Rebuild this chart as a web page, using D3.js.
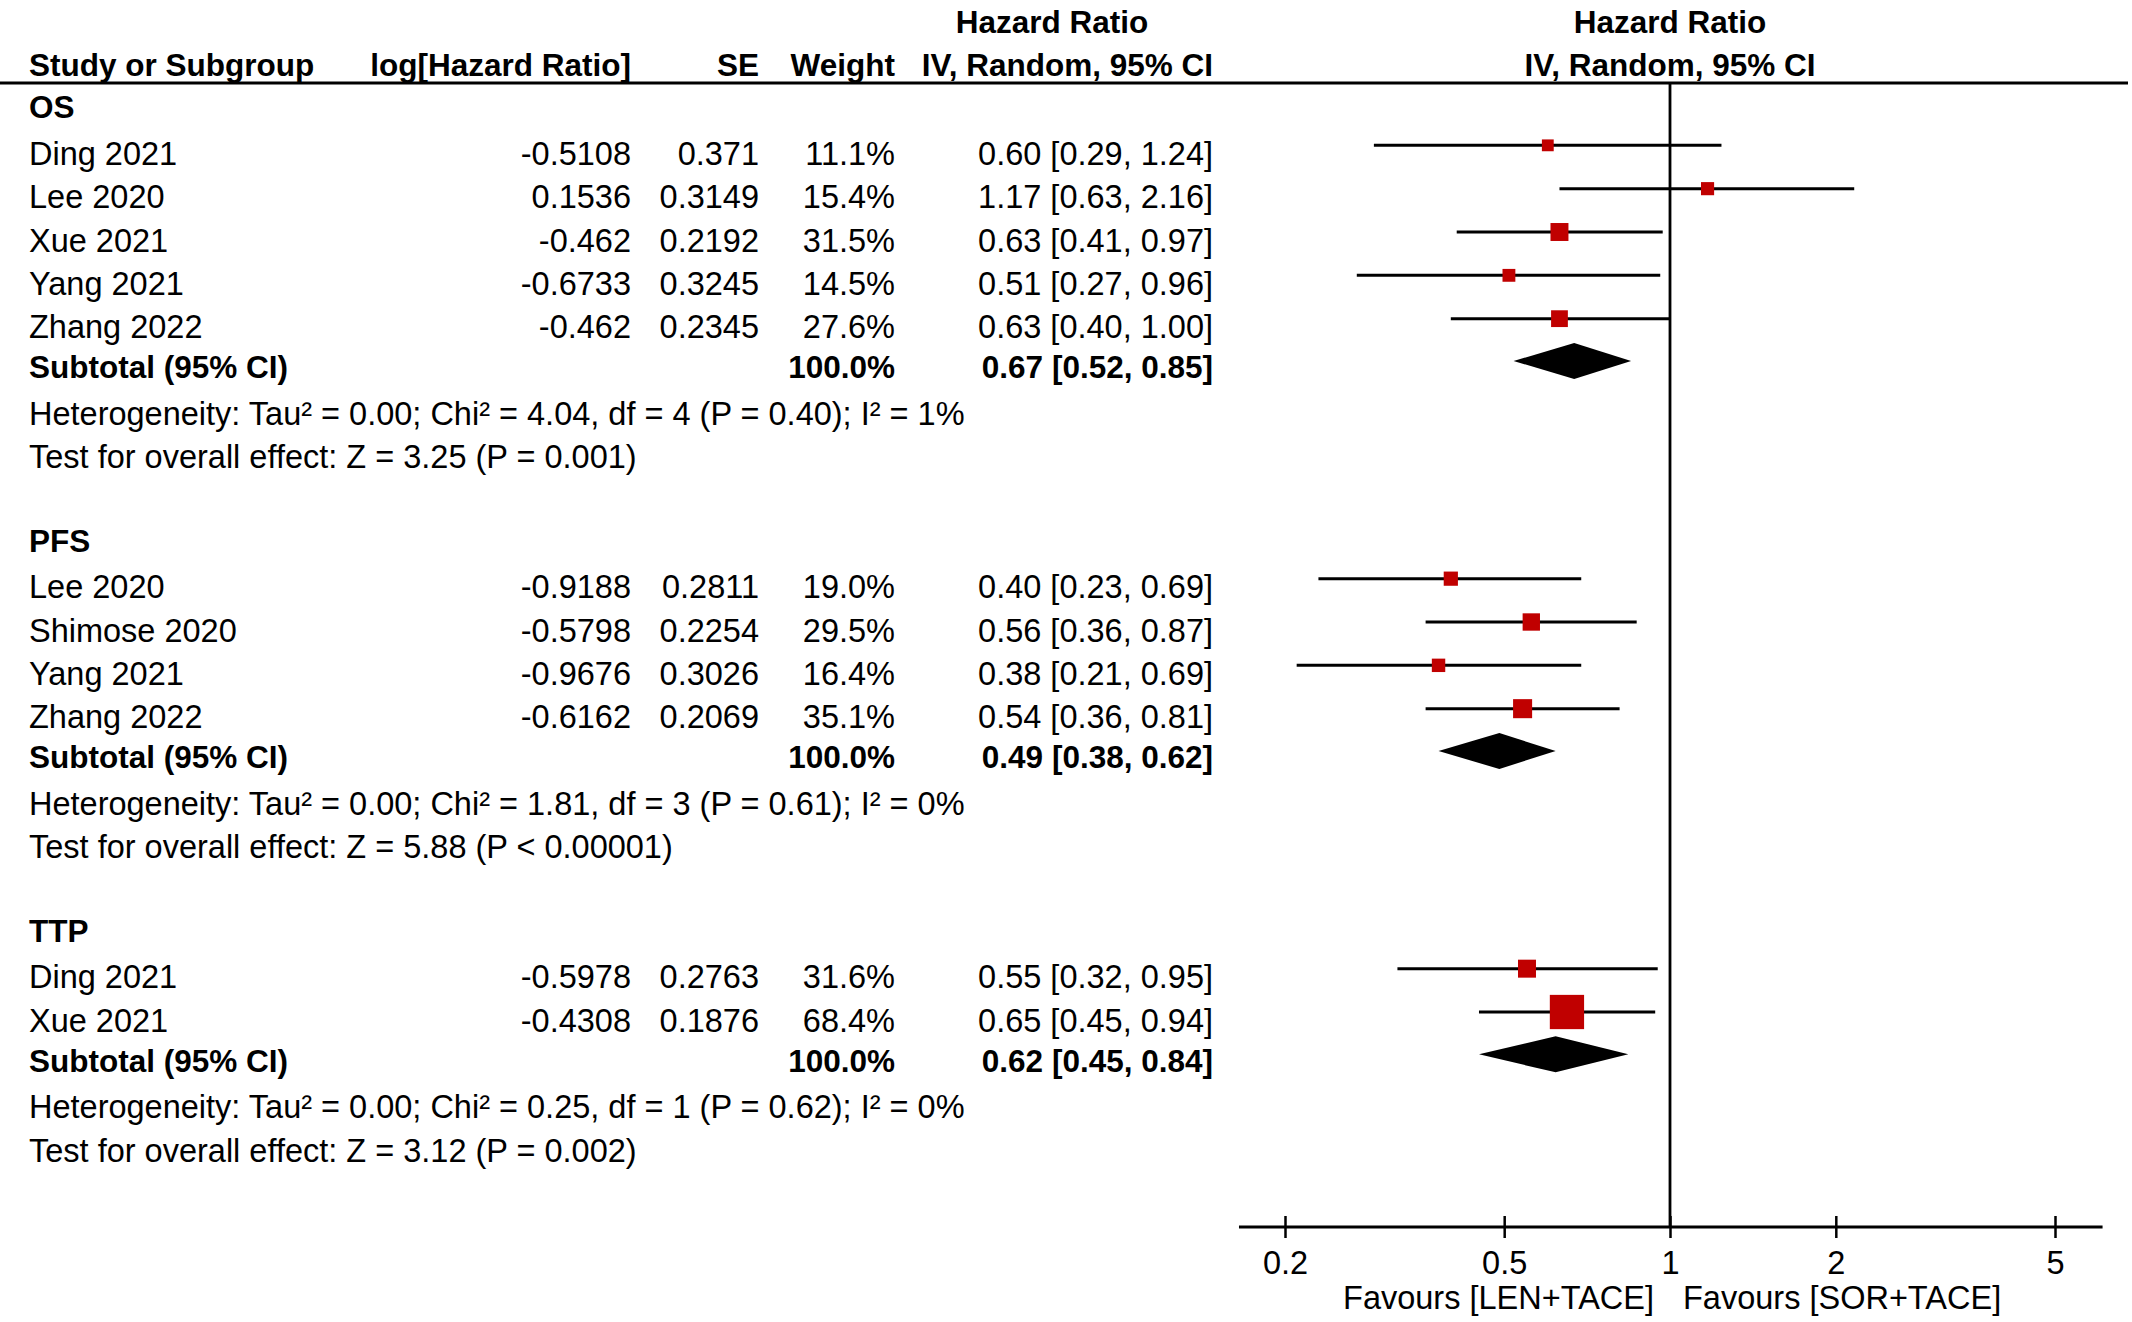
<!DOCTYPE html>
<html>
<head>
<meta charset="utf-8">
<script src="https://cdn.jsdelivr.net/npm/d3@7"></script>
<style>
  body { margin: 0; background: #fff; }
  svg text { font-family: "Liberation Sans", Arial, sans-serif; font-size: 32.5px; fill: #000; }
  .b { font-weight: bold; font-size: 31.5px; }
</style>
</head>
<body>
<svg id="chart" width="2132" height="1322"></svg>
<script>
// data
var groups = ["OS", "PFS", "TTP"];
var studies = ["Ding 2021", "Lee 2020", "Xue 2021", "Yang 2021", "Zhang 2022",
               "Lee 2020", "Shimose 2020", "Yang 2021", "Zhang 2022",
               "Ding 2021", "Xue 2021"];
var studyGroup = [0, 0, 0, 0, 0, 1, 1, 1, 1, 2, 2];
var logHR = ["-0.5108", "0.1536", "-0.462", "-0.6733", "-0.462",
             "-0.9188", "-0.5798", "-0.9676", "-0.6162",
             "-0.5978", "-0.4308"];
var se = ["0.371", "0.3149", "0.2192", "0.3245", "0.2345",
          "0.2811", "0.2254", "0.3026", "0.2069",
          "0.2763", "0.1876"];
var weight = [11.1, 15.4, 31.5, 14.5, 27.6, 19.0, 29.5, 16.4, 35.1, 31.6, 68.4];
var hr = [0.60, 1.17, 0.63, 0.51, 0.63, 0.40, 0.56, 0.38, 0.54, 0.55, 0.65];
var lo = [0.29, 0.63, 0.41, 0.27, 0.40, 0.23, 0.36, 0.21, 0.36, 0.32, 0.45];
var hi = [1.24, 2.16, 0.97, 0.96, 1.00, 0.69, 0.87, 0.69, 0.81, 0.95, 0.94];

var subHR = [0.67, 0.49, 0.62];
var subLo = [0.52, 0.38, 0.45];
var subHi = [0.85, 0.62, 0.84];
var hetText = [
  "Heterogeneity: Tau\u00b2 = 0.00; Chi\u00b2 = 4.04, df = 4 (P = 0.40); I\u00b2 = 1%",
  "Heterogeneity: Tau\u00b2 = 0.00; Chi\u00b2 = 1.81, df = 3 (P = 0.61); I\u00b2 = 0%",
  "Heterogeneity: Tau\u00b2 = 0.00; Chi\u00b2 = 0.25, df = 1 (P = 0.62); I\u00b2 = 0%"
];
var effectText = [
  "Test for overall effect: Z = 3.25 (P = 0.001)",
  "Test for overall effect: Z = 5.88 (P < 0.00001)",
  "Test for overall effect: Z = 3.12 (P = 0.002)"
];
var ticks = [0.2, 0.5, 1, 2, 5];
var axisExtent = [0.165, 6.1];
var favours = ["Favours [LEN+TACE]", "Favours [SOR+TACE]"];

var svg = d3.select("#chart");

// columns
var col = {label: 29, logHR: 631, se: 759, weight: 895, ci: 1213, ciHead: 1052};
var axisY = 1227;

var x = d3.scaleLog().domain([0.2, 5]).range([1285, 2055]);
var rowY = d3.scaleLinear().domain([0, 24]).range([110, 1150]);
var boxSize = d3.scaleLinear().domain([10, 35, 70]).range([11.5, 19, 35]);

function txt(xp, yp, s, anchor, bold) {
  return svg.append("text")
    .attr("x", xp).attr("y", yp).attr("dy", "0.36em")
    .attr("text-anchor", anchor || "start")
    .attr("class", bold ? "b" : null)
    .text(s);
}

// header
txt(col.ciHead, 22, "Hazard Ratio", "middle", true);
txt(x(1), 22, "Hazard Ratio", "middle", true);
txt(col.label, 65, "Study or Subgroup", "start", true);
txt(col.logHR, 65, "log[Hazard Ratio]", "end", true);
txt(col.se, 65, "SE", "end", true);
txt(col.weight, 65, "Weight", "end", true);
txt(col.ci, 65, "IV, Random, 95% CI", "end", true);
txt(x(1), 65, "IV, Random, 95% CI", "middle", true);
svg.append("line").attr("x1", 0).attr("x2", 2128).attr("y1", 83).attr("y2", 83)
  .attr("stroke", "#000").attr("stroke-width", 3);

// null line
svg.append("line").attr("x1", x(1)).attr("x2", x(1)).attr("y1", 83).attr("y2", axisY)
  .attr("stroke", "#000").attr("stroke-width", 2.8);

// build row layout
var row = 0;
groups.forEach(function(g, gi) {
  txt(col.label, rowY(row) - 3, g, "start", true);
  row++;
  studies.forEach(function(s, i) {
    if (studyGroup[i] !== gi) return;
    var y = rowY(row);
    txt(col.label, y, s);
    txt(col.logHR, y, logHR[i], "end");
    txt(col.se, y, se[i], "end");
    txt(col.weight, y, weight[i].toFixed(1) + "%", "end");
    txt(col.ci, y, hr[i].toFixed(2) + " [" + lo[i].toFixed(2) + ", " + hi[i].toFixed(2) + "]", "end");
    var ly = y - 8;
    svg.append("line").attr("x1", x(lo[i])).attr("x2", x(hi[i]))
      .attr("y1", ly).attr("y2", ly)
      .attr("stroke", "#000").attr("stroke-width", 3);
    var b = boxSize(weight[i]);
    svg.append("rect").attr("x", x(hr[i]) - b / 2).attr("y", ly - b / 2)
      .attr("width", b).attr("height", b).attr("fill", "#c00000");
    row++;
  });
  var sy = rowY(row) - 3;
  txt(col.label, sy, "Subtotal (95% CI)", "start", true);
  txt(col.weight, sy, "100.0%", "end", true);
  txt(col.ci, sy, subHR[gi].toFixed(2) + " [" + subLo[gi].toFixed(2) + ", " + subHi[gi].toFixed(2) + "]", "end", true);
  var dy = sy - 6, h = 18;
  svg.append("path")
    .attr("d", "M" + x(subLo[gi]) + "," + dy + "L" + x(subHR[gi]) + "," + (dy - h) +
               "L" + x(subHi[gi]) + "," + dy + "L" + x(subHR[gi]) + "," + (dy + h) + "Z")
    .attr("fill", "#000");
  row++;
  txt(col.label, rowY(row), hetText[gi]);
  row++;
  txt(col.label, rowY(row), effectText[gi]);
  row += 2;
});

// axis
var ax = svg.append("g").attr("transform", "translate(0," + axisY + ")")
  .call(d3.axisBottom(x).tickValues(ticks).tickFormat(function(d) { return d; }).tickSize(10));
ax.select(".domain").remove();
ax.append("line").attr("x1", x(axisExtent[0])).attr("x2", x(axisExtent[1]))
  .attr("stroke", "#000").attr("stroke-width", 3);
ax.selectAll(".tick line").attr("y1", -11).attr("y2", 11).attr("stroke", "#000").attr("stroke-width", 2.5);
ax.selectAll(".tick text").attr("y", 35).attr("dy", "0.36em")
  .style("font-family", "'Liberation Sans', Arial, sans-serif").style("font-size", "32.5px");

txt(x(1) - 16, 1297, favours[0], "end");
txt(x(1) + 13, 1297, favours[1], "start");
</script>
</body>
</html>
